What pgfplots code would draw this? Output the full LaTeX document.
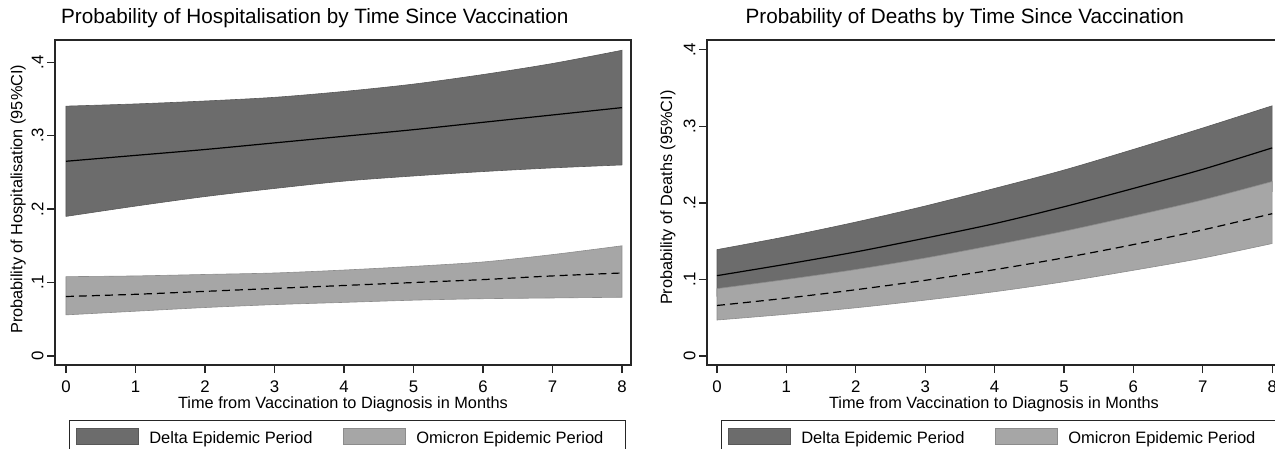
\documentclass[border=0pt]{standalone}
\usepackage{fontspec}
\setmainfont{Liberation Sans}
\usepackage{pgfplots}
\usepackage{pgfplotstable}
\pgfplotsset{compat=1.18}
\usepgfplotslibrary{fillbetween}
\definecolor{dk}{RGB}{108,108,108}
\definecolor{dkedge}{RGB}{88,88,88}
\definecolor{lt}{RGB}{166,166,166}
\definecolor{ltedge}{RGB}{140,140,140}

\pgfplotstableread{
x lo mid hi
0 0.190 0.265 0.340
1 0.204 0.273 0.343
2 0.217 0.281 0.347
3 0.228 0.290 0.352
4 0.238 0.299 0.360
5 0.245 0.308 0.370
6 0.251 0.318 0.383
7 0.256 0.328 0.398
8 0.260 0.338 0.416
}\hospdelta
\pgfplotstableread{
x lo mid hi
0 0.056 0.081 0.108
1 0.061 0.084 0.109
2 0.066 0.088 0.111
3 0.070 0.092 0.113
4 0.073 0.096 0.117
5 0.076 0.100 0.122
6 0.078 0.104 0.128
7 0.079 0.109 0.138
8 0.080 0.113 0.150
}\hospomi
\pgfplotstableread{
x lo mid hi
0 0.078 0.105 0.139
1 0.089 0.120 0.156
2 0.102 0.136 0.175
3 0.116 0.154 0.196
4 0.132 0.173 0.219
5 0.150 0.195 0.243
6 0.170 0.219 0.270
7 0.191 0.244 0.298
8 0.215 0.272 0.327
}\deathdelta
\pgfplotstableread{
x lo mid hi
0 0.047 0.066 0.088
1 0.0545 0.0756 0.100
2 0.063 0.0866 0.113
3 0.073 0.0989 0.128
4 0.084 0.1128 0.145
5 0.097 0.1283 0.163
6 0.112 0.1456 0.183
7 0.128 0.1648 0.204
8 0.147 0.186 0.228
}\deathomi

\pgfplotsset{
  stata/.style={
    scale only axis, anchor=south west, height=325pt,
    axis line style={line width=1.1pt, black!85},
    tick style={line width=1.1pt, black!85},
    tick align=outside, major tick length=8pt, tick pos=left,
    xtick={0,1,2,3,4,5,6,7,8},
    xticklabels={0,1,2,3,4,5,6,7,8},
    ytick={0,0.1,0.2,0.3,0.4},
    yticklabels={0,.1,.2,.3,.4},
    ticklabel style={font=\fontsize{16.8}{19}\selectfont},
    xticklabel style={yshift=-4pt},
    yticklabel style={rotate=90, anchor=south},
    label style={font=\fontsize{16.3}{19}\selectfont},
    title style={font=\fontsize{20.7}{24}\selectfont, anchor=center, yshift=16pt},
    xlabel style={at={(axis description cs:0.5,-0.12)}, anchor=center},
    legend columns=2,
    legend style={anchor=north west, draw=black!85, line width=1pt,
      font=\fontsize{16.5}{19}\selectfont, inner xsep=6pt, inner ysep=8pt,
      /tikz/every odd column/.append style={column sep=9pt},
      /tikz/every even column/.append style={column sep=28pt}},
    legend cell align=left,
  },
  dkimg/.style={legend image code/.code={\path[fill=dk, draw=dkedge, line width=0.8pt] (0pt,-7pt) rectangle (62pt,9pt);}},
  ltimg/.style={legend image code/.code={\path[fill=lt, draw=ltedge, line width=0.8pt] (0pt,-7pt) rectangle (62pt,9pt);}},
}

\begin{document}
\begin{tikzpicture}[x=1pt,y=1pt]

\begin{axis}[stata, at={(55pt,83pt)}, width=576pt,
  xmin=-0.158, xmax=8.13, ymin=-0.0122, ymax=0.430,
  title={Probability of Hospitalisation by Time Since Vaccination},
  title style={at={(axis description cs:0.451,1)}},
  xlabel={Time from Vaccination to Diagnosis in Months},
  ylabel={Probability of Hospitalisation (95\%CI)},
  ylabel style={at={(axis description cs:-0.064,0.51)}, anchor=center},
  legend style={at={(axis description cs:0.0243,-0.169)}},
]
\addplot[name path=hdu, draw=none, smooth, forget plot] table[x=x,y=hi]{\hospdelta};
\addplot[name path=hdl, draw=none, smooth, forget plot] table[x=x,y=lo]{\hospdelta};
\addplot[fill=dk, draw=dkedge, line width=0.6pt, forget plot] fill between[of=hdu and hdl];
\addplot[name path=hou, draw=none, smooth, forget plot] table[x=x,y=hi]{\hospomi};
\addplot[name path=hol, draw=none, smooth, forget plot] table[x=x,y=lo]{\hospomi};
\addplot[fill=lt, draw=ltedge, line width=0.6pt, forget plot] fill between[of=hou and hol];
\addplot[black, line width=1.2pt, smooth, forget plot] table[x=x,y=mid]{\hospdelta};
\addplot[black, line width=1.2pt, dash pattern=on 8pt off 5pt, smooth, forget plot] table[x=x,y=mid]{\hospomi};
\addlegendimage{dkimg}\addlegendentry{Delta Epidemic Period}
\addlegendimage{ltimg}\addlegendentry{Omicron Epidemic Period\rule{14pt}{0pt}}
\end{axis}

\begin{axis}[stata, at={(707pt,83pt)}, width=574pt,
  xmin=-0.144, xmax=8.127, ymin=-0.0118, ymax=0.413,
  title={Probability of Deaths by Time Since Vaccination},
  title style={at={(axis description cs:0.449,1)}},
  xlabel={Time from Vaccination to Diagnosis in Months},
  ylabel={Probability of Deaths (95\%CI)},
  ylabel style={at={(axis description cs:-0.068,0.515)}, anchor=center},
  legend style={at={(axis description cs:0.0244,-0.169)}},
]
\addplot[name path=ddu, draw=none, smooth, forget plot] table[x=x,y=hi]{\deathdelta};
\addplot[name path=ddl, draw=none, smooth, forget plot] table[x=x,y=lo]{\deathdelta};
\addplot[fill=dk, draw=dkedge, line width=0.6pt, forget plot] fill between[of=ddu and ddl];
\addplot[name path=dou, draw=none, smooth, forget plot] table[x=x,y=hi]{\deathomi};
\addplot[name path=dol, draw=none, smooth, forget plot] table[x=x,y=lo]{\deathomi};
\addplot[fill=lt, draw=ltedge, line width=0.6pt, forget plot] fill between[of=dou and dol];
\addplot[black, line width=1.2pt, smooth, forget plot] table[x=x,y=mid]{\deathdelta};
\addplot[black, line width=1.2pt, dash pattern=on 8pt off 5pt, smooth, forget plot] table[x=x,y=mid]{\deathomi};
\addlegendimage{dkimg}\addlegendentry{Delta Epidemic Period}
\addlegendimage{ltimg}\addlegendentry{Omicron Epidemic Period\rule{14pt}{0pt}}
\end{axis}
\pgfresetboundingbox
\path[use as bounding box] (0,0) rectangle (1275,448);
\end{tikzpicture}
\end{document}
